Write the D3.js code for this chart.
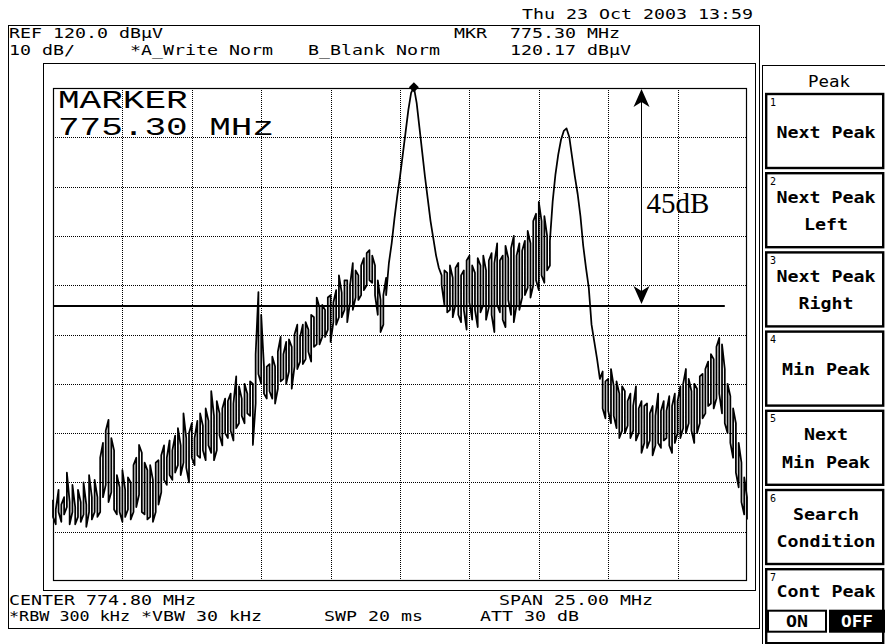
<!DOCTYPE html>
<html><head><meta charset="utf-8">
<script src="https://cdn.jsdelivr.net/npm/d3@7"></script>
<style>body{margin:0;background:#fff} svg{display:block}</style>
</head><body><svg id="c" width="885" height="644"></svg>
<script>
// ---------- data ----------
const centerMHz = 774.80;
const spanMHz = 25.00;
const refLevel = 120.0;   // dBµV
const dbPerDiv = 10;
const divisions = 10;
const markerMHz = 775.30;
const markerDb = 120.17;
const annotTopDb = 120.0;
const annotLevelDb = 75.8;
const annotArrowMHz = 783.5;
const annotLineEndMHz = 786.5;
const annotLabel = "45dB";

// trace, 251 bins equally spaced across the span: max and min of each bin (dBµV)
const traceMax = [
 36.5,34.5,38.5,35.5,37,42,36,39.5,35,38.5,36,40,35.5,41.5,37,40.5,37,
 45,48,50.5,52.7,49,46.5,
 41.5,39,42.5,38.5,41,40,43.5,
 45,47.6,46,44,
 42.5,43.5,40.5,44,44.5,
 45.5,47.5,45,48.5,46.5,
 49.5,51,47.5,54,49,50,52,49,52.5,
 54,51.5,55,52.5,58.5,53.5,56.5,54,55,57,56.5,
 58,56,61.5,59.5,57,60,58,60.5,
 60,66,78.6,74,63.5,
 63.5,64,65.5,63.5,66.5,69.5,66,68.5,69,67.5,70,72,69.5,72,
 72.5,71,74,73.5,77.5,75.5,76,75,77.5,78,76.5,79,82,78.5,81,81,80,84.5,83,82,
 84,85.5,86.5,87.1,86,84,81,77,78,81.5,
 84.5,88.5,93.5,98,102,106.5,111,115.5,119,120.17,117,112,107,102,97.5,93,89.5,86,83.5,82,
 83,82.5,84,81.5,83.5,84.5,82,83,85,86,84,82.5,85.5,84,86,83,85,86.5,84.5,88.5,85,86,88,85.5,87.5,90,86,88.5,87,
 89,91,88.5,93,94.5,96.9,93,94,90,89,
 97,102.5,106.5,109.5,111.3,111.8,110,106,102,98.5,94,88,83.5,79.5,72,68.5,65,61,
 62.5,60.5,61,63,59.5,60.5,58,59.5,
 58.5,56.5,58,55.5,59.5,55,56.5,
 55.5,56,54,55.5,53.5,58,54.5,
 56.5,54.5,57.5,55.5,58,56.5,59.5,
 60,63,61,58.5,60,59,61.5,
 62,63,64.5,66,65,67.5,69.3,68,
 63,60,57.5,55,52,48,44,41,37
];
const traceMin = [
 33,31.5,34,32,33.5,35,31.5,34,31.5,33,32,33.5,31,34,32.5,34,33,
 34,37,39.5,36,38,34.5,
 33.5,34,32,33,34.5,32.5,34,
 35,37.5,34,33.5,
 32.5,33,32,34,35.5,
 38,40.5,39.5,41.5,40.5,
 42,43.5,41.5,44,43,40,45,43.5,45.5,
 45,46.5,44.5,47.5,46,44.5,46.5,49.5,47.5,50,49,
 50.5,48.5,51,52,53.5,52,54,53.5,
 47.6,56,62,60,58,
 57,58.5,57,56,59,60.5,61,60,62.5,59,63.5,63,64.5,64,
 65,66.5,64.5,67.5,68,68,69.5,69.5,71,68.5,72.5,72,73.5,73.5,75,72.5,76.5,75,77.5,77,
 78,79,80,81,80.5,78,74,70.5,72,78,
 84.5,88.5,93.5,98,102,106.5,111,115.5,119,120.17,117,112,107,102,97.5,93,89.5,86,83.5,80,
 76,74.5,75,73.5,76,74,72.5,75,71,76.5,73,75,71.5,74.5,76,73,75.5,74,70.5,76,74.5,73,71.5,77,74,72.5,76,75,77.5,
 78,79.5,77.5,80,81,79,82,80.5,83,84,
 97,102.5,106.5,109.5,111.3,111.8,110,106,102,98.5,94,88,83.5,79.5,72,68.5,65,61,
 55,53,54.5,52,53.5,51,49,50.5,
 50,51.5,49,50.5,48.5,50,46,
 48,47,48.5,45.5,47.5,48,47,
 48.5,49,47.5,46,48,50,49,
 51,50,52,50.5,48,50,52,
 53,54,55.5,56,55,57,58,54,
 52,50,48,45,42,39,36,33.5,32.5
];

const headerTexts = [
  {t:"Thu 23 Oct 2003 13:59", x:522, y:19, w:231},
  {t:"REF 120.0 dBµV", x:9, y:38, w:154},
  {t:"MKR", x:454, y:38, w:33},
  {t:"775.30 MHz", x:510, y:38, w:110},
  {t:"10 dB/", x:9, y:55, w:66},
  {t:"*A_Write Norm", x:130, y:55, w:143},
  {t:"B_Blank Norm", x:308, y:55, w:132},
  {t:"120.17 dBµV", x:510, y:55, w:121},
  {t:"CENTER 774.80 MHz", x:9, y:605, w:187},
  {t:"SPAN 25.00 MHz", x:499, y:605, w:154},
  {t:"*RBW 300 kHz", x:9, y:621, w:121},
  {t:"*VBW 30 kHz", x:141, y:621, w:121},
  {t:"SWP 20 ms", x:324, y:621, w:99},
  {t:"ATT 30 dB", x:480, y:621, w:99}
];
const markerLines = ["MARKER", "775.30 MHz"];

const menuTitle = "Peak";
const softkeys = [
  {n:"1", lines:["Next Peak"]},
  {n:"2", lines:["Next Peak","Left"]},
  {n:"3", lines:["Next Peak","Right"]},
  {n:"4", lines:["Min Peak"]},
  {n:"5", lines:["Next","Min Peak"]},
  {n:"6", lines:["Search","Condition"]},
  {n:"7", lines:["Cont Peak"], toggle:["ON","OFF"]}
];

// ---------- drawing ----------
const svg = d3.select("#c");
const G = {l:53, t:88, r:747, b:581};
const fStart = centerMHz - spanMHz/2, fEnd = centerMHz + spanMHz/2;
const x = d3.scaleLinear().domain([fStart, fEnd]).range([G.l, G.r]);
const y = d3.scaleLinear().domain([refLevel - dbPerDiv*divisions, refLevel]).range([G.b, G.t]);

// frames
svg.append("rect").attr("x",8.5).attr("y",25.5).attr("width",751).attr("height",603)
  .attr("fill","none").attr("stroke","#000");
svg.append("rect").attr("x",43.5).attr("y",63.5).attr("width",712).attr("height",527)
  .attr("fill","none").attr("stroke","#000");

// grid
const xTicks = d3.range(1, divisions).map(i => fStart + i*spanMHz/divisions);
const yTicks = d3.range(1, divisions).map(i => refLevel - i*dbPerDiv);
const gx = svg.append("g").attr("transform",`translate(0,${G.b})`)
  .call(d3.axisBottom(x).tickValues(xTicks).tickSize(-(G.b-G.t)).tickFormat(""));
const gy = svg.append("g").attr("transform",`translate(${G.l},0)`)
  .call(d3.axisLeft(y).tickValues(yTicks).tickSize(-(G.r-G.l)).tickFormat(""));
[gx, gy].forEach(g => {
  g.select(".domain").remove();
  g.selectAll(".tick line").attr("stroke","#000").attr("stroke-width",1)
    .attr("stroke-dasharray","1,1").attr("shape-rendering","crispEdges");
});
svg.append("rect").attr("x",G.l+0.5).attr("y",G.t+0.5).attr("width",G.r-G.l-1).attr("height",G.b-G.t-1)
  .attr("fill","none").attr("stroke","#000").attr("stroke-width",1.2);

// marker text inside grid
svg.append("g").selectAll("text").data(markerLines).join("text")
  .attr("x",58).attr("y",(d,i)=>108+i*27)
  .attr("font-family","Liberation Mono, monospace").attr("font-size",25)
  .attr("textLength",d=>d.length*21.6).attr("lengthAdjust","spacingAndGlyphs")
  .text(d=>d);

// trace: each bin drawn as a vertical stroke between its min and max (peak detector look)
const n = traceMax.length;
const fx = i => fStart + i*spanMHz/(n-1);
const pts = [];
for (let i = 0; i < n; i++) {
  if (i % 2 === 0) { pts.push([fx(i), traceMax[i]]); pts.push([fx(i), traceMin[i]]); }
  else { pts.push([fx(i), traceMin[i]]); pts.push([fx(i), traceMax[i]]); }
}
svg.append("path").datum(pts)
  .attr("fill","none").attr("stroke","#000").attr("stroke-width",1.75).attr("stroke-linejoin","round")
  .attr("d", d3.line().x(d=>x(d[0])).y(d=>y(d[1])));

// marker diamond
const mx = x(markerMHz), my = y(markerDb);
svg.append("path").attr("d",`M${mx},${my-5}L${mx+5},${my}L${mx},${my+5}L${mx-5},${my}Z`).attr("fill","#000");

// annotation
const ax = x(annotArrowMHz), ayT = y(annotTopDb), ayB = y(annotLevelDb);
svg.append("line").attr("x1",G.l).attr("x2",x(annotLineEndMHz)).attr("y1",ayB).attr("y2",ayB)
  .attr("stroke","#000").attr("stroke-width",2);
svg.append("line").attr("x1",ax).attr("x2",ax).attr("y1",ayT+4).attr("y2",ayB-4)
  .attr("stroke","#000").attr("stroke-width",1);
svg.append("path").attr("d",`M${ax},${ayT+1}L${ax+8},${ayT+19}L${ax},${ayT+14}L${ax-8},${ayT+19}Z`).attr("fill","#000");
svg.append("path").attr("d",`M${ax},${ayB-2}L${ax+8},${ayB-20}L${ax},${ayB-15}L${ax-8},${ayB-20}Z`).attr("fill","#000");
svg.append("text").attr("x",ax+5).attr("y",213)
  .attr("font-family","Liberation Serif, Times New Roman, serif").attr("font-size",29).text(annotLabel);

// header / footer texts (bitmap-like mono)
svg.append("g").selectAll("text").data(headerTexts).join("text")
  .attr("x",d=>d.x).attr("y",d=>d.y)
  .attr("font-family","DejaVu Sans Mono, monospace").attr("font-size",14)
  .attr("textLength",d=>d.w).attr("lengthAdjust","spacingAndGlyphs")
  .text(d=>d.t);

// softkey panel
svg.append("rect").attr("x",762.5).attr("y",65.5).attr("width",140).attr("height",600)
  .attr("fill","none").attr("stroke","#000");
svg.append("text").attr("x",829).attr("y",87).attr("text-anchor","middle")
  .attr("font-family","DejaVu Sans Mono, monospace").attr("font-size",16)
  .attr("textLength",42).attr("lengthAdjust","spacingAndGlyphs").text(menuTitle);

const keyTop = i => 93.5 + i*79.2;
const kg = svg.append("g").selectAll("g").data(softkeys).join("g")
  .attr("transform",(d,i)=>`translate(0,${keyTop(i)})`);
kg.append("rect").attr("x",766.2).attr("y",0.5).attr("width",117).attr("height",74)
  .attr("fill","#fff").attr("stroke","#000").attr("stroke-width",2.4);
kg.append("text").attr("x",770).attr("y",12).attr("font-family","DejaVu Sans Mono, monospace")
  .attr("font-size",10).text(d=>d.n);
kg.each(function(d){
  const g = d3.select(this);
  const ys = d.toggle ? [28.5] : (d.lines.length===1 ? [44] : [30, 57.5]);
  d.lines.forEach((ln,j)=>{
    g.append("text").attr("x",826).attr("y",ys[j]).attr("text-anchor","middle")
      .attr("font-family","DejaVu Sans Mono, monospace").attr("font-weight","bold").attr("font-size",16)
      .attr("textLength",ln.length*11).attr("lengthAdjust","spacingAndGlyphs").text(ln);
  });
  if (d.toggle){
    g.append("rect").attr("x",768).attr("y",42).attr("width",58).attr("height",21)
      .attr("fill","#fff").attr("stroke","#000").attr("stroke-width",2);
    g.append("rect").attr("x",829).attr("y",41).attr("width",56).attr("height",23).attr("fill","#000");
    g.append("text").attr("x",797).attr("y",58).attr("text-anchor","middle")
      .attr("font-family","DejaVu Sans Mono, monospace").attr("font-weight","bold").attr("font-size",15)
      .attr("textLength",22).attr("lengthAdjust","spacingAndGlyphs").text(d.toggle[0]);
    g.append("text").attr("x",857).attr("y",58).attr("text-anchor","middle").attr("fill","#fff")
      .attr("font-family","DejaVu Sans Mono, monospace").attr("font-weight","bold").attr("font-size",15)
      .attr("textLength",32).attr("lengthAdjust","spacingAndGlyphs").text(d.toggle[1]);
  }
});
</script></body></html>
